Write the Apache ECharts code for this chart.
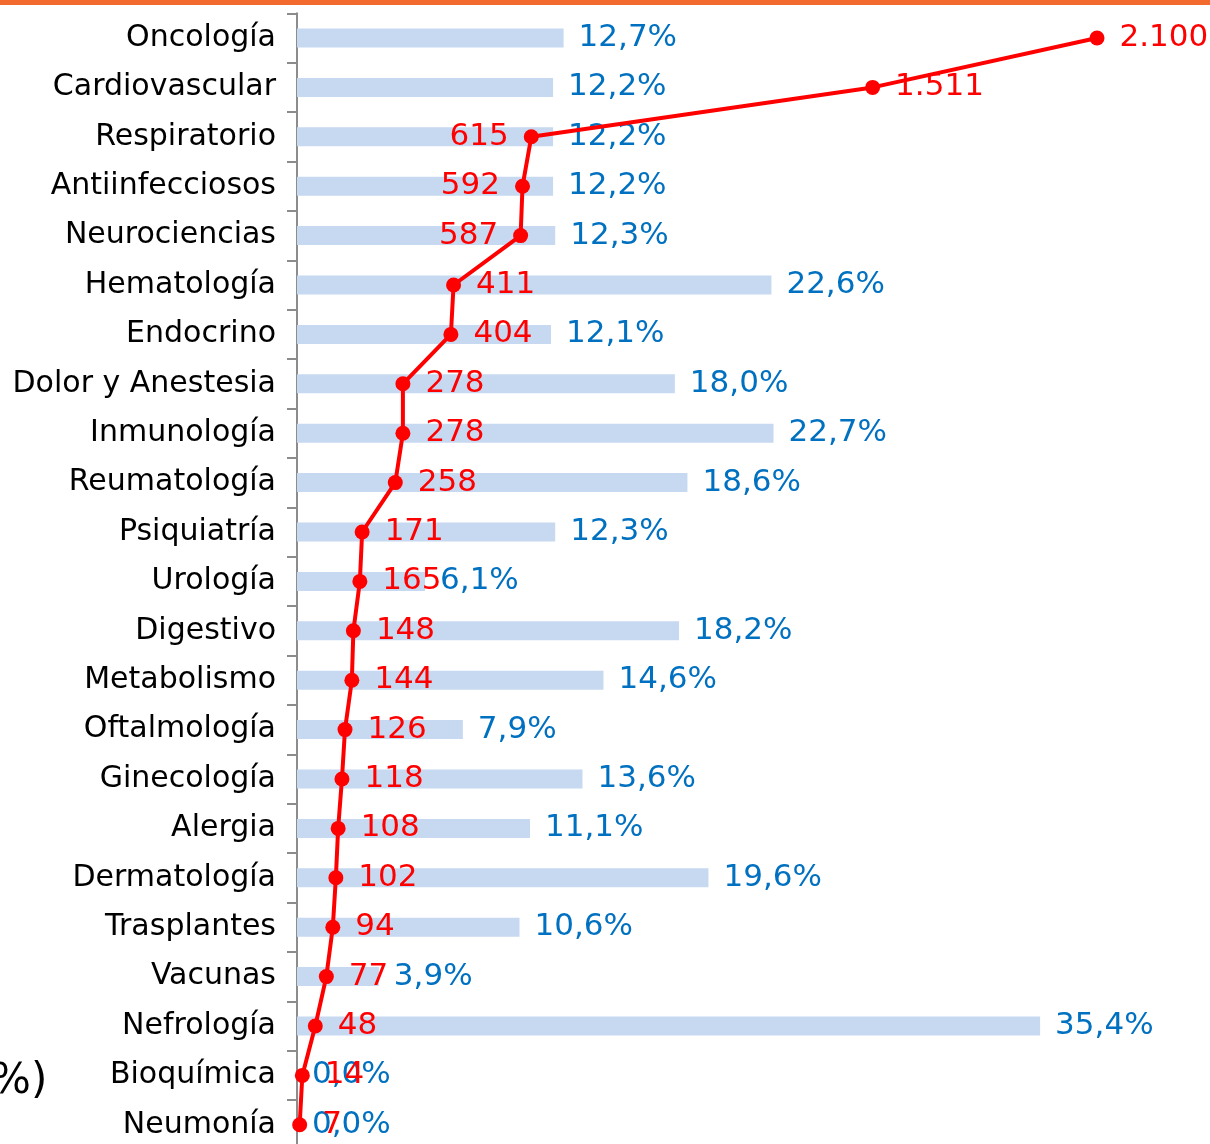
<!DOCTYPE html>
<html>
<head>
<meta charset="utf-8">
<script src="https://cdn.jsdelivr.net/npm/echarts@6/dist/echarts.min.js"></script>
<style>
  html, body { margin: 0; padding: 0; background: #ffffff; }
  #chart { width: 1210px; height: 1144px; }
</style>
</head>
<body>
<div id="chart"></div>
<script>
// Therapeutic areas, top to bottom
const categories = [
  'Oncología', 'Cardiovascular', 'Respiratorio', 'Antiinfecciosos', 'Neurociencias',
  'Hematología', 'Endocrino', 'Dolor y Anestesia', 'Inmunología', 'Reumatología',
  'Psiquiatría', 'Urología', 'Digestivo', 'Metabolismo', 'Oftalmología',
  'Ginecología', 'Alergia', 'Dermatología', 'Trasplantes', 'Vacunas',
  'Nefrología', 'Bioquímica', 'Neumonía'
];

// Growth percentage per area (bars)
const growthPct = [
  12.7, 12.2, 12.2, 12.2, 12.3,
  22.6, 12.1, 18.0, 22.7, 18.6,
  12.3, 6.1, 18.2, 14.6, 7.9,
  13.6, 11.1, 19.6, 10.6, 3.9,
  35.4, 0.0, 0.0
];

// Absolute value per area (line)
const amounts = [
  2100, 1511, 615, 592, 587,
  411, 404, 278, 278, 258,
  171, 165, 148, 144, 126,
  118, 108, 102, 94, 77,
  48, 14, 7
];

// Areas whose line label sits to the left of the point
const leftLabelAreas = ['Respiratorio', 'Antiinfecciosos', 'Neurociencias'];

const FONT = 'DejaVu Sans, Verdana, sans-serif';
// nudges text a couple of pixels below the row centre
const TEXT_PAD = [4, 0, 0, 0];

const fmtPct = v => v.toFixed(1).replace('.', ',') + '%';
const fmtAmount = v => String(v).replace(/\B(?=(\d{3})+(?!\d))/g, '.');

const lineData = amounts.map((v, i) => ({
  value: v,
  label: { position: leftLabelAreas.includes(categories[i]) ? 'left' : 'right' }
}));

const chart = echarts.init(document.getElementById('chart'), null, { renderer: 'canvas' });

chart.setOption({
  animation: false,
  backgroundColor: '#ffffff',
  grid: {
    left: 297, top: 13.3, width: 800, height: 1136.2,
    containLabel: false, outerBoundsMode: 'none'
  },
  xAxis: [
    { type: 'value', min: 0, max: 38.11, show: false },
    { type: 'value', min: 0, max: 2100, show: false }
  ],
  yAxis: {
    type: 'category',
    data: categories,
    inverse: true,
    axisLine: { show: true, lineStyle: { color: '#8c8c8c', width: 2 } },
    axisTick: { show: true, length: 10, lineStyle: { color: '#8c8c8c', width: 2 } },
    axisLabel: {
      color: '#000000', fontSize: 30, fontFamily: FONT, margin: 21, padding: TEXT_PAD
    },
    splitLine: { show: false }
  },
  series: [
    {
      type: 'bar',
      xAxisIndex: 0,
      data: growthPct,
      barWidth: 19,
      itemStyle: { color: '#c6d9f1' },
      label: {
        show: true,
        position: 'right',
        distance: 15,
        color: '#0070c0',
        fontSize: 31,
        fontFamily: FONT,
        padding: TEXT_PAD,
        formatter: p => fmtPct(p.value)
      },
      z: 2
    },
    {
      type: 'line',
      xAxisIndex: 1,
      data: lineData,
      symbol: 'circle',
      symbolSize: 15,
      lineStyle: { color: '#ff0000', width: 4 },
      itemStyle: { color: '#ff0000' },
      label: {
        show: true,
        distance: 15,
        color: '#ff0000',
        fontSize: 31,
        fontFamily: FONT,
        padding: TEXT_PAD,
        formatter: p => fmtAmount(p.value)
      },
      z: 3
    }
  ],
  graphic: [
    {
      type: 'rect',
      left: 0,
      top: 0,
      shape: { width: 1210, height: 5 },
      style: { fill: '#f26a2e' },
      z: 10
    },
    {
      type: 'text',
      left: -9,
      top: 1061,
      style: { text: '%)', fill: '#000000', fontSize: 42, fontFamily: FONT }
    }
  ]
});
</script>
</body>
</html>
